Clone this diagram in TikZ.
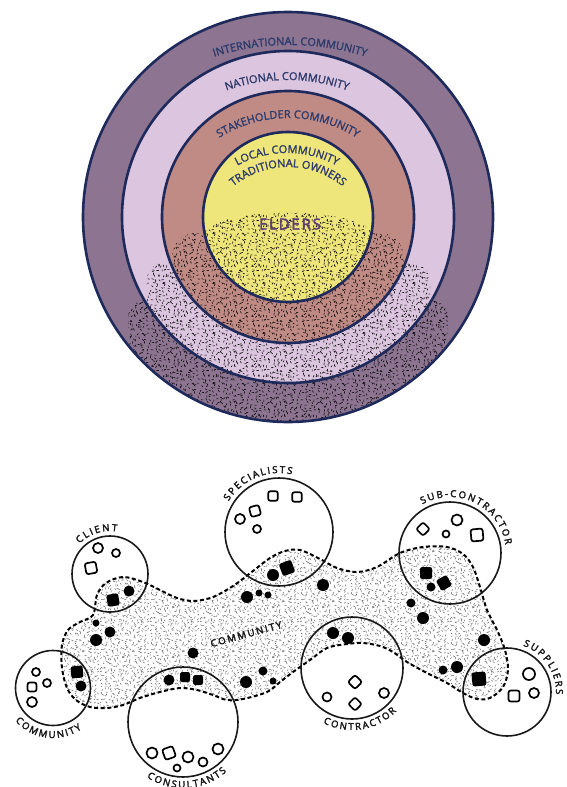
\documentclass[tikz,border=0pt]{standalone}
\usepackage{fontspec}
\setmainfont{Open Sans}
\usetikzlibrary{decorations.text,patterns}
\newfontfamily\ringfamily[BoldFont={*},BoldFeatures={FakeBold=1.6}]{Open Sans}
\newfontfamily\labfamily[WordSpace={0.75,0,0},BoldFont={*},BoldFeatures={FakeBold=3}]{Open Sans}
\newfontfamily\elderfamily[LetterSpace=12,BoldFont={*},BoldFeatures={FakeBold=3}]{Open Sans}
\newcommand\ringfmt{\ringfamily\bfseries\fontsize{11}{13}\selectfont}
\newcommand\labfmt{\labfamily\bfseries\fontsize{9.6}{11}\selectfont}
\definecolor{ringA}{HTML}{8D7591}
\definecolor{ringB}{HTML}{DCC6DF}
\definecolor{ringC}{HTML}{C08B85}
\definecolor{ringD}{HTML}{EEE57B}
\definecolor{navy}{HTML}{1F2A5C}
\definecolor{navytext}{HTML}{2C3A6C}
\definecolor{elderc}{HTML}{5F3F73}
\pgfdeclarepatternformonly{stiptop}{\pgfqpoint{0pt}{0pt}}{\pgfqpoint{50pt}{50pt}}{\pgfqpoint{50pt}{50pt}}{%
  \pgfsetlinewidth{0.55pt}\pgfsetroundcap
  \foreach \i in {0,...,13}{\foreach \j in {0,...,13}{%
    \pgfmathsetmacro\pa{360*rnd}%
    \pgfmathsetmacro\px{(\i+rnd)*50/14}\pgfmathsetmacro\py{(\j+rnd)*50/14}%
    \pgfpathmoveto{\pgfqpoint{\px pt}{\py pt}}%
    \pgfpathlineto{\pgfpointadd{\pgfqpoint{\px pt}{\py pt}}{\pgfpointpolar{\pa}{1.9pt}}}%
    \pgfusepath{stroke}}}%
}
\pgfdeclarepatternformonly{stipbot}{\pgfqpoint{0pt}{0pt}}{\pgfqpoint{50pt}{50pt}}{\pgfqpoint{50pt}{50pt}}{%
  \pgfsetlinewidth{0.45pt}\pgfsetroundcap
  \foreach \i in {0,...,14}{\foreach \j in {0,...,14}{%
    \pgfmathsetmacro\pa{360*rnd}%
    \pgfmathsetmacro\px{(\i+rnd)*50/15}\pgfmathsetmacro\py{(\j+rnd)*50/15}%
    \pgfpathmoveto{\pgfqpoint{\px pt}{\py pt}}%
    \pgfpathlineto{\pgfpointadd{\pgfqpoint{\px pt}{\py pt}}{\pgfpointpolar{\pa}{1.8pt}}}%
    \pgfusepath{stroke}}}%
}
\newcommand\rsq[5]{\path[#1,rounded corners=2.2pt,rotate around={#5:(#2,-#3)}] ({#2-#4},{-#3-#4}) rectangle ({#2+#4},{-#3+#4});}
\newcommand\rdot[4]{\path[#1] (#2,-#3) circle (#4);}
\tikzset{
  ringline/.style={draw=navy,line width=2.6pt},
  netcircle/.style={draw=black!90,line width=1.6pt},
  blob/.style={pattern=stipbot,pattern color=black!65,draw=black,line width=2pt,dash pattern=on 4pt off 2.6pt},
  fdot/.style={fill=black},
  hdot/.style={draw=black,line width=1.7pt},
  ringtext/.style={decorate,decoration={text along path,text align=center,text color=navytext,text={|\ringfmt|#1}}},
  labtext/.style={decorate,decoration={text along path,text align=center,text color=black!90,text={|\labfmt|#1}}},
}
\begin{document}
\begin{tikzpicture}[x=1pt,y=1pt]
\pgfmathsetseed{11}
\useasboundingbox (0,0) rectangle (566,-787);
\clip (0,0) rectangle (566,-787);
% ---------- concentric rings ----------
\fill[ringA] (288,-217) circle (205);
\begin{scope}\clip (288,-217) circle (205);
  \fill[pattern=stiptop,pattern color=black,rounded corners=18pt] (128,-300) rectangle (448,-440);
\end{scope}
\fill[ringB] (288,-217) circle (166);
\begin{scope}\clip (288,-217) circle (166);
  \fill[pattern=stiptop,pattern color=black,rounded corners=20pt] (146,-262) rectangle (430,-440);
\end{scope}
\fill[ringC] (288,-217) circle (126);
\begin{scope}\clip (288,-217) circle (126);
  \fill[pattern=stiptop,pattern color=black,rounded corners=24pt] (172,-233) rectangle (404,-440);
\end{scope}
\fill[ringD] (288,-217) circle (85);
\begin{scope}\clip (288,-217) circle (85);
  \fill[pattern=stiptop,pattern color=black] (203,-236) .. controls (207,-205) and (369,-205) .. (373,-236) -- (373,-440) -- (203,-440) -- cycle;
\end{scope}
\draw[ringline] (288,-217) circle (205);
\draw[ringline] (288,-217) circle (166);
\draw[ringline] (288,-217) circle (126);
\draw[ringline] (288,-217) circle (85);
\path[ringtext={INTERNATIONAL COMMUNITY}] ([shift={(290,-295)}]115:250) arc[start angle=115,end angle=65,radius=250];
\path[ringtext={NATIONAL COMMUNITY}] ([shift={(287,-260)}]112:180) arc[start angle=112,end angle=68,radius=180];
\path[ringtext={STAKEHOLDER COMMUNITY}] ([shift={(288,-247)}]130:129) arc[start angle=130,end angle=50,radius=129];
\path[ringtext={LOCAL COMMUNITY}] ([shift={(287,-257)}]130:104) arc[start angle=130,end angle=50,radius=104];
\path[ringtext={TRADITIONAL OWNERS}] ([shift={(288,-254)}]145:87) arc[start angle=145,end angle=35,radius=87];
\node[text=elderc,font=\elderfamily\bfseries\fontsize{15}{17}\selectfont,inner sep=0pt] (elders) at (290,-224) {ELDERS};
% ---------- network ----------
\path[blob] plot[smooth cycle,tension=0.55] coordinates {
(62,-645) (68,-630) (80,-622) (93,-615) (97,-595) (106,-583) (123,-577) (143,-582) (160,-590) (177,-598) (194,-601) (213,-597) (233,-586) (253,-571) (270,-558) (285,-551) (300,-550) (320,-559) (337,-568) (357,-572) (377,-567) (400,-553) (423,-547) (447,-547) (463,-554) (473,-567) (480,-587) (487,-610) (497,-630) (505,-650) (508,-670) (503,-687) (490,-698) (477,-699) (463,-693) (447,-683) (427,-673) (407,-662) (393,-652) (380,-646) (363,-643) (347,-644) (327,-648) (310,-660) (293,-672) (280,-682) (267,-692) (243,-699) (227,-700) (213,-695) (197,-690) (180,-688) (160,-692) (140,-698) (123,-705) (107,-708) (90,-707) (76,-700) (67,-688) (62,-668)};
\draw[netcircle] (110,-574) circle (38);
\draw[netcircle] (53,-688) circle (37.5);
\draw[netcircle] (183,-722) circle (55);
\draw[netcircle] (279,-532) circle (54);
\draw[netcircle] (450,-553) circle (51);
\draw[netcircle] (352,-668) circle (51);
\draw[netcircle] (507,-692) circle (44);
% filled dots
\rsq{fdot}{113}{600}{6}{10}
\rdot{fdot}{129}{591}{5.5}
\rdot{fdot}{96}{623}{3.5}
\rdot{fdot}{110}{632}{5.5}
\rdot{fdot}{96}{640}{6}
\rsq{fdot}{77}{672}{6}{5}
\rdot{fdot}{81}{686}{5.5}
\rdot{fdot}{193}{653}{5.5}
\rdot{fdot}{169}{680}{5.5}
\rsq{fdot}{185}{677}{5}{0}
\rsq{fdot}{198}{680}{5}{0}
\rdot{fdot}{247}{597}{6}
\rdot{fdot}{259}{593}{3.5}
\rdot{fdot}{268}{595}{3.5}
\rdot{fdot}{273}{575}{6}
\rsq{fdot}{287}{568}{6.5}{20}
\rdot{fdot}{323}{585}{6}
\rdot{fdot}{246}{682}{6}
\rdot{fdot}{263}{671}{4.5}
\rdot{fdot}{273}{681}{3.5}
\rdot{fdot}{333}{633}{6}
\rdot{fdot}{348}{638}{6}
\rdot{fdot}{411}{603}{4.5}
\rdot{fdot}{423}{618}{6}
\rsq{fdot}{426}{573}{6}{0}
\rdot{fdot}{431}{587}{4.5}
\rsq{fdot}{444}{583}{6}{30}
\rdot{fdot}{484}{640}{6}
\rdot{fdot}{443}{670}{4.5}
\rdot{fdot}{457}{667}{6}
\rsq{fdot}{479}{679}{7}{5}
% hollow shapes
\rdot{hdot}{98}{548}{5}
\rdot{hdot}{116}{553}{4}
\rsq{hdot}{91}{568}{5.5}{10}
\rdot{hdot}{36}{672}{4}
\rdot{hdot}{47}{683}{4}
\rsq{hdot}{32}{687}{4.5}{0}
\rdot{hdot}{32}{702}{5}
\rdot{hdot}{152}{753}{5.5}
\rsq{hdot}{169}{753}{5.5}{20}
\rdot{hdot}{177}{768}{3.5}
\rdot{hdot}{188}{757}{5.5}
\rdot{hdot}{203}{762}{4.5}
\rdot{hdot}{218}{749}{5.5}
\rdot{hdot}{240}{519}{5}
\rsq{hdot}{255}{511}{5}{15}
\rdot{hdot}{257}{529}{4}
\rsq{hdot}{273}{496}{4.8}{0}
\rsq{hdot}{297}{497}{4.8}{0}
\rsq{hdot}{423}{529}{4.8}{45}
\rdot{hdot}{446}{534}{3.5}
\rdot{hdot}{457}{520}{5.5}
\rsq{hdot}{477}{535}{6}{5}
\rsq{hdot}{355}{682}{5}{45}
\rdot{hdot}{327}{697}{4.5}
\rsq{hdot}{355}{704}{4.8}{45}
\rdot{hdot}{384}{693}{5}
\rdot{hdot}{529}{674}{6}
\rsq{hdot}{514}{696}{5.5}{0}
\rdot{hdot}{534}{693}{5}
% labels
\path[labtext={C L I E N T}] ([shift={(110,-574)}]150:43) arc[start angle=150,end angle=66,radius=43];
\path[labtext={S P E C I A L I S T S}] ([shift={(279,-532)}]178:59) arc[start angle=178,end angle=48,radius=59];
\path[labtext={S U B - C O N T R A C T O R}] ([shift={(450,-553)}]145:56) arc[start angle=145,end angle=-17,radius=56];
\path[labtext={S U P P L I E R S}] ([shift={(507,-692)}]105:49) arc[start angle=105,end angle=-37,radius=49];
\path[labtext={C O M M U N I T Y}] ([shift={(53,-688)}]195:50) arc[start angle=195,end angle=331,radius=50];
\path[labtext={C O N T R A C T O R}] ([shift={(352,-668)}]220:62) arc[start angle=220,end angle=338,radius=62];
\path[labtext={C O N S U L T A N T S}] ([shift={(183,-722)}]210:66) arc[start angle=210,end angle=338,radius=66];
\coordinate (cl1) at (194,-652);
\coordinate (cl2) at (300,-623);
\path[labtext={C O M M U N I T Y}] (cl1) -- (cl2);
\end{tikzpicture}
\end{document}
